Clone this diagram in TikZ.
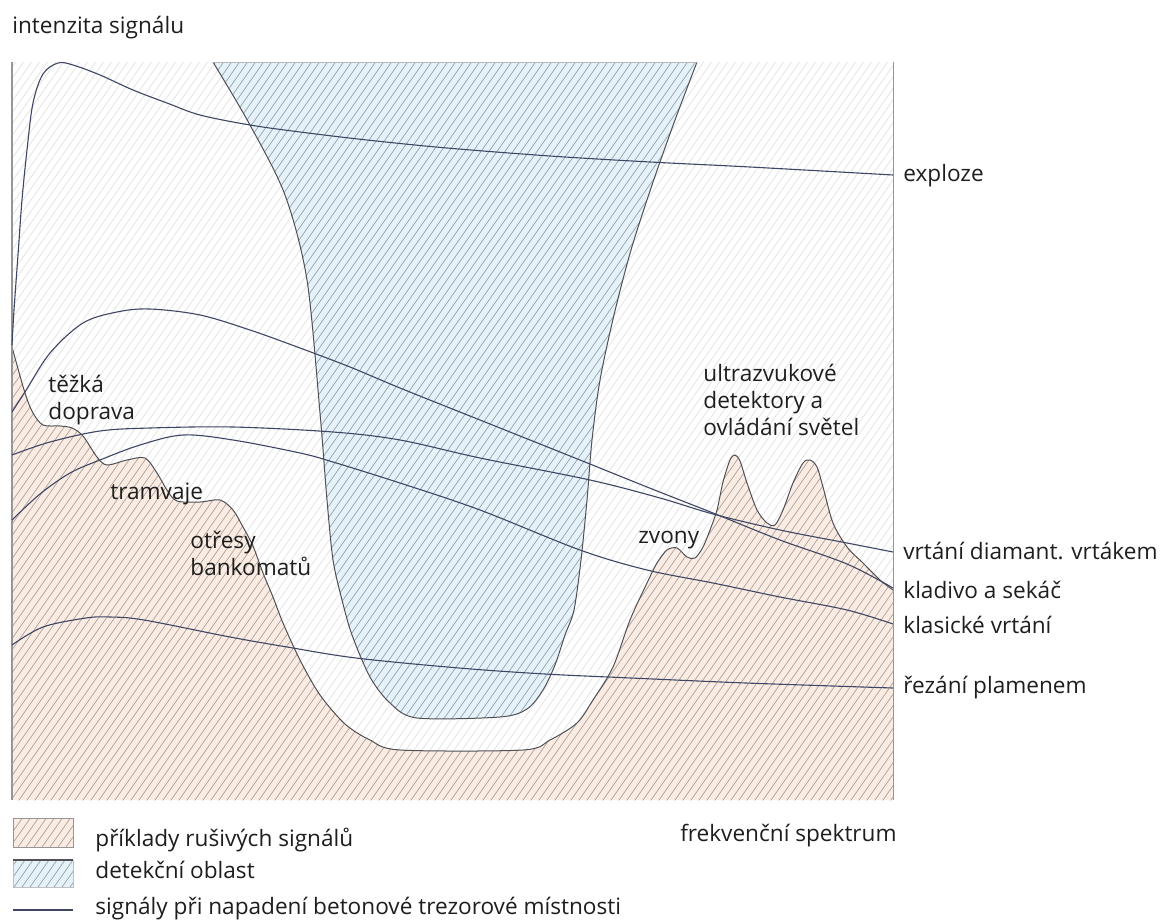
\documentclass[tikz,border=0pt]{standalone}
\usepackage{fontspec}
\setmainfont{Open Sans}

\definecolor{txt}{RGB}{30,30,30}
\definecolor{sigc}{RGB}{62,70,100}
\definecolor{edgec}{RGB}{80,80,85}
\definecolor{framec}{RGB}{150,150,150}
\definecolor{noisefill}{RGB}{250,236,226}
\definecolor{noisehatch}{RGB}{172,162,156}
\definecolor{detfill}{RGB}{230,242,249}
\definecolor{dethatch}{RGB}{150,162,172}
\definecolor{bghatch}{RGB}{226,226,226}

% diagonal hatching over the whole drawing (clip first)
\newcommand\hatchlines[1]{%
  \foreach \k in {-80,...,115}{\draw[hatchln,#1] (\k*8,930) -- (\k*8+623,40);}}

% upper boundary of the interference region
\def\noisepath{plot[smooth,tension=0.5] coordinates {
  (12,347) (25,393) (33,413) (43,425) (60,426) (72,428) (83,436) (97,457)
  (107,465) (127,460) (145,458) (157,473) (167,490) (177,501) (200,502)
  (220,500) (233,510) (243,527) (253,546) (263,573) (273,597) (283,623)
  (300,660) (320,695) (345,724) (370,740) (400,750) (523,750) (550,740)
  (577,723) (593,700) (613,667) (630,620) (647,583) (657,563) (667,550)
  (677,548) (687,557) (695,558) (703,547) (710,530) (717,510) (723,482)
  (730,460) (735,455) (740,461) (747,483) (757,510) (767,523) (775,525)
  (783,510) (793,483) (803,463) (810,460) (817,467) (823,487) (833,523)
  (847,547) (863,563) (880,580) (893,590)}}

% outline of the detection region (sides and bottom)
\def\detpath{plot[smooth,tension=0.5] coordinates {
  (213,62) (250,125) (285,195) (307,280) (320,413) (327,500) (333,560)
  (342,600) (352,635) (370,677) (390,703) (417,718) (500,717) (527,709)
  (543,690) (555,665) (565,635) (574,610) (581,560) (587,500) (592,440)
  (600,380) (614,315) (631,250) (652,185) (675,120) (697,62)}}

\begin{document}
\begin{tikzpicture}[x=0.5pt,y=-0.5pt,
  font=\fontsize{11.3}{13.5}\selectfont,
  hatchln/.style={line width=0.35pt},
  sig/.style={draw=sigc,line width=0.55pt},
  outline/.style={draw=edgec,line width=0.5pt},
  lbl/.style={inner sep=0pt,text=txt},
  lblb/.style={lbl,anchor=base west},
  lblm/.style={lbl,anchor=west,align=left}]

\useasboundingbox (0,0) rectangle (1162,921);
\fill[white] (0,0) rectangle (1162,921);

% faint hatching of the whole plot area
\begin{scope}
  \clip (12,62) rectangle (893,800);
  \hatchlines{bghatch}
\end{scope}

% interference signals
\fill[noisefill] \noisepath -- (893,800) -- (12,800) -- cycle;
\begin{scope}
  \clip \noisepath -- (893,800) -- (12,800) -- cycle;
  \hatchlines{noisehatch}
\end{scope}

% detection region
\fill[detfill] \detpath -- cycle;
\begin{scope}
  \clip \detpath -- cycle;
  \hatchlines{dethatch}
\end{scope}

\draw[outline] \noisepath;
\draw[outline] \detpath;
\draw[framec!70,line width=0.4pt] (213,62) -- (697,62);

% axes
\draw[framec,line width=0.6pt] (12,62) -- (12,800);
\draw[framec,line width=0.5pt] (893,62) -- (893,800);

% attack signals
\draw[sig] plot[smooth,tension=0.55] coordinates {
  (12,345) (14,310) (18,255) (22,200) (27,150) (33,103) (43,74) (58,63)
  (73,65) (100,75) (133,90) (167,103) (200,115) (250,125) (300,132)
  (367,140) (447,148) (550,156) (650,162) (750,167) (893,175)};
\draw[sig] plot[smooth,tension=0.55] coordinates {
  (12,412) (25,392) (50,353) (83,323) (117,312) (150,309) (200,315)
  (250,330) (300,348) (350,367) (400,388) (480,420) (580,460) (647,487)
  (713,513) (780,540) (847,564) (893,588)};
\draw[sig] plot[smooth,tension=0.55] coordinates {
  (12,455) (50,442) (100,431) (150,428) (233,427) (333,432) (400,440)
  (480,458) (590,480) (660,498) (713,514) (780,530) (847,543) (893,552)};
\draw[sig] plot[smooth,tension=0.55] coordinates {
  (12,520) (40,494) (70,473) (100,460) (140,445) (183,435) (233,440)
  (300,453) (333,462) (400,483) (480,510) (580,550) (647,570) (713,583)
  (780,597) (847,610) (893,624)};
\draw[sig] plot[smooth,tension=0.55] coordinates {
  (12,645) (43,627) (86,618) (110,617) (144,620) (230,637) (287,647)
  (356,658) (459,668) (545,674) (631,678) (746,683) (893,688)};

% axis titles
\node[lblb] (ytitle) at (12,33) {intenzita signálu};
\node[lbl,anchor=base east] (xtitle) at (897,841) {frekvenční spektrum};

% signal names
\node[lblb] (explo) at (903,181) {exploze};
\node[lblb] (diam) at (903,559) {vrtání diamant. vrtákem};
\node[lblb] (klad) at (903,598) {kladivo a sekáč};
\node[lblb] (klas) at (903,633) {klasické vrtání};
\node[lblb] (rez) at (903,693) {řezání plamenem};

% interference sources
\node[lblm] (doprava) at (48,400) {těžká\\doprava};
\node[lblb] (tram) at (110,499) {tramvaje};
\node[lblm] (atm) at (190,553) {otřesy\\bankomatů};
\node[lblb] (zvony) at (638,543) {zvony};
\node[lblm] (ultra) at (703,400) {ultrazvukové\\detektory a\\ovládání světel};

% legend
\fill[noisefill] (13,818) rectangle (73,847);
\begin{scope}
  \clip (13,818) rectangle (73,847);
  \hatchlines{noisehatch}
\end{scope}
\draw[framec,line width=0.4pt] (13,818) rectangle (73,847);
\fill[detfill] (13,860) rectangle (73,887);
\begin{scope}
  \clip (13,860) rectangle (73,887);
  \hatchlines{dethatch}
\end{scope}
\draw[framec!60,line width=0.4pt] (13,860) rectangle (73,887);
\draw[edgec,line width=0.6pt] (13,860) -- (73,860);
\coordinate (legA) at (13,910);
\coordinate (legB) at (73,910);
\draw[sig] (legA) -- (legB);

\node[lblb] (leg1) at (95,846) {příklady rušivých signálů};
\node[lblb] (leg2) at (95,878) {detekční oblast};
\node[lblb] (leg3) at (95,914) {signály při napadení betonové trezorové místnosti};
\end{tikzpicture}
\end{document}
